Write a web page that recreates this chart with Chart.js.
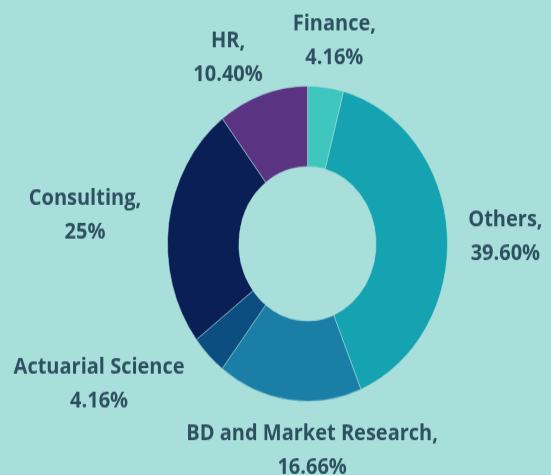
<!DOCTYPE html>
<html>
<head>
<meta charset="utf-8">
<script src="https://cdn.jsdelivr.net/npm/chart.js@4"></script>
<style>
	html, body { margin: 0; padding: 0; width: 551px; height: 475px; background: #a9dfdb; overflow: hidden; }
	#wrap { width: 551px; height: 422px; transform-origin: 0 0; transform: scaleY(1.1256); }
</style>
</head>
<body>
<div id="wrap"><canvas id="chart" width="551" height="422"></canvas></div>
<script>
const categories = ['Finance', 'Others', 'BD and Market Research', 'Actuarial Science', 'Consulting', 'HR'];
const shares = [4.16, 39.60, 16.66, 4.16, 25, 10.40];
const shareLabels = ['4.16%', '39.60%', '16.66%', '4.16%', '25%', '10.40%'];
const colors = ['#3fc6bf', '#15a3b2', '#1a7ea6', '#0c4e80', '#0b1f57', '#5a3482'];

// label placement: distance from center and angle nudge (deg) per slice
const labelDist = [182, 198, 184, 243, 224, 183];
const labelNudge = [1, 2, -9, 14, -1, -7];

const outsideLabels = {
	id: 'outsideLabels',
	afterDraw(chart) {
		const ctx = chart.ctx;
		const arcs = chart.getDatasetMeta(0).data;
		ctx.save();
		ctx.fillStyle = '#2d5060';
		ctx.font = 'bold 20px "Open Sans"';
		ctx.textAlign = 'center';
		ctx.textBaseline = 'middle';
		arcs.forEach((arc, i) => {
			const mid = (arc.startAngle + arc.endAngle) / 2 + labelNudge[i] * Math.PI / 180;
			const x = arc.x + Math.cos(mid) * labelDist[i];
			const y = arc.y + Math.sin(mid) * labelDist[i];
			const sep = categories[i] === 'Actuarial Science' ? '' : ',';
			ctx.fillText(categories[i] + sep, x, y - 15);
			ctx.fillText(shareLabels[i], x, y + 15);
		});
		ctx.restore();
	},
};

new Chart(document.getElementById('chart'), {
	type: 'doughnut',
	data: {
		labels: categories,
		datasets: [
			{
				data: shares,
				backgroundColor: colors,
				borderColor: 'rgba(170,225,220,0.5)',
				borderWidth: 1,
			},
		],
	},
	options: {
		responsive: false,
		animation: false,
		devicePixelRatio: 1,
		cutout: '49%',
		layout: { padding: { left: 64, right: 0, top: 76, bottom: 65 } },
		plugins: {
			legend: { display: false },
			tooltip: { enabled: false },
		},
	},
	plugins: [outsideLabels],
});
</script>
</body>
</html>
